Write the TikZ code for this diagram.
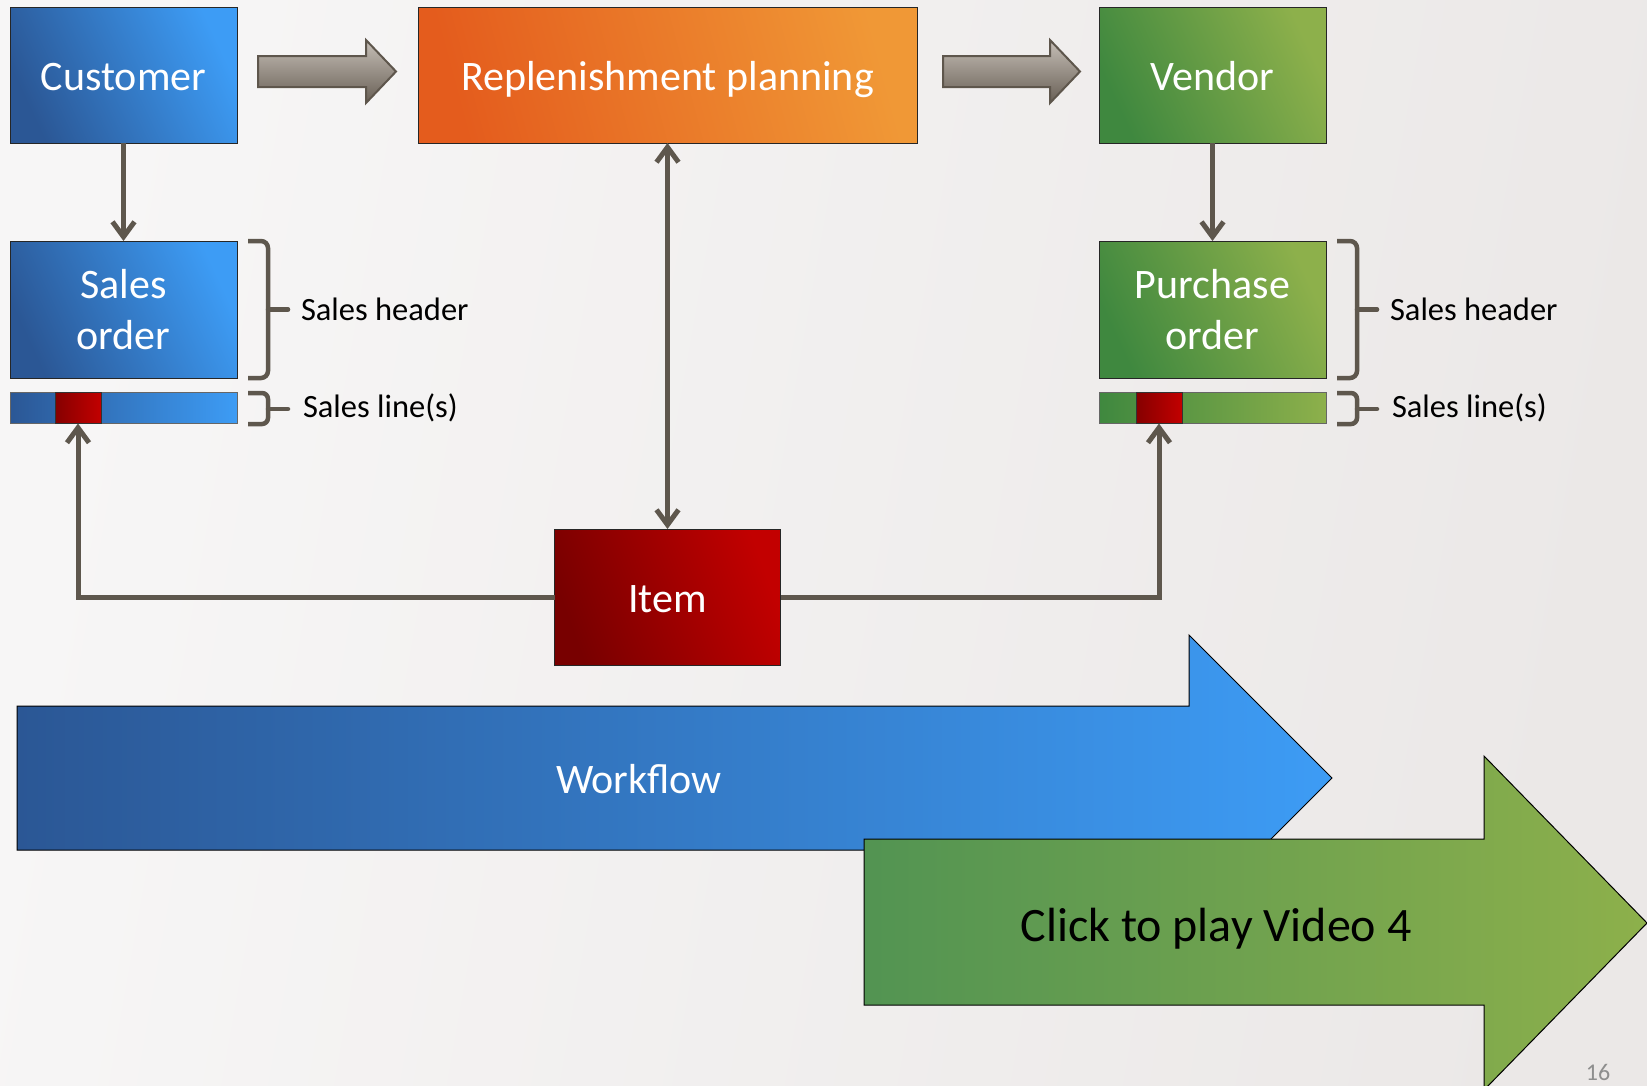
\documentclass[tikz,border=0pt]{standalone}
\usepackage{fontspec}
\setmainfont{Carlito}
\usetikzlibrary{arrows.meta,calc}
\definecolor{bluedark}{HTML}{2B5795}
\definecolor{bluelight}{HTML}{3D9CF5}
\definecolor{orgdark}{HTML}{E45C1D}
\definecolor{orglight}{HTML}{F09836}
\definecolor{grndark}{HTML}{3F883F}
\definecolor{grnlight}{HTML}{8DB04B}
\definecolor{reddark}{HTML}{780000}
\definecolor{redlight}{HTML}{C20000}
\definecolor{conncol}{HTML}{5E574D}
\definecolor{grayhi}{HTML}{C6BFB7}
\definecolor{graylo}{HTML}{685F55}
\definecolor{bgL}{HTML}{F7F6F6}
\definecolor{bgR}{HTML}{EBE8E7}
\definecolor{pagenum}{HTML}{8E8E8E}
\begin{document}
\begin{tikzpicture}[x=1pt,y=-1pt,
  box/.style={draw=black!85, line width=1pt, minimum width=227pt, minimum height=136pt,
    inner sep=0pt, outer sep=0pt, text=white, align=center,
    font=\fontsize{42}{51}\selectfont},
  oneline/.style={text height=30pt, text depth=0pt},
  bluebox/.style={box, left color=bluedark, right color=bluelight, shading angle=115},
  orgbox/.style={box, left color=orgdark, right color=orglight, shading angle=105},
  grnbox/.style={box, left color=grndark, right color=grnlight, shading angle=115},
  redbox/.style={box, left color=reddark, right color=redlight, shading angle=110},
  bar/.style={draw=black!60, line width=1pt, minimum width=227pt, minimum height=31pt,
    inner sep=0pt, outer sep=0pt},
  redseg/.style={draw=black!80, line width=1pt, minimum width=46pt, minimum height=31pt,
    inner sep=0pt, outer sep=0pt, left color=reddark!90!red, right color=redlight},
  conn/.style={draw=conncol, line width=5pt, -{Straight Barb[length=15pt,width=22pt]}},
  brace/.style={draw=conncol, line width=4.5pt, rounded corners=7pt},
  lbl/.style={inner sep=0pt, outer sep=0pt, text=black, font=\fontsize{32.5}{40}\selectfont},
  grayarr/.style={draw=graylo!90!black, line width=2pt, top color=grayhi, bottom color=graylo},
]
\useasboundingbox (0,0) rectangle (1647,1085);
\shade[left color=bgL, right color=bgR, shading angle=80] (0,0) rectangle (1647,1085);

% top row
\node[bluebox, oneline] (customer) at (123.5,75) {Customer};
\node[orgbox, oneline, minimum width=499pt] (replen) at (667.5,75) {Replenishment planning};
\node[grnbox, oneline] (vendor) at (1212.5,75) {Vendor};

% gray arrows
\path[grayarr] (258,56) -- (366,56) -- (366,40) -- (396,71.5) -- (366,103) -- (366,87) -- (258,87) -- cycle;
\path[grayarr] (943,56) -- (1050,56) -- (1050,40) -- (1080,71.5) -- (1050,103) -- (1050,87) -- (943,87) -- cycle;

% orders
\node[bluebox, minimum height=137pt] (salesorder) at (123.5,309.5) {Sales\\order};
\node[grnbox, minimum height=137pt] (purchorder) at (1212.5,309.5) {Purchase\\order};

% lines bars
\node[bar, left color=bluedark, right color=bluelight] (soline) at (123.5,408) {};
\node[redseg] (soRed) at (78,408) {};
\node[bar, left color=grndark, right color=grnlight] (poline) at (1212.5,408) {};
\node[redseg] (poRed) at (1159,408) {};

% item
\node[redbox, oneline, minimum width=226pt] (item) at (667.5,597) {Item};

% brackets left
\draw[brace] (248,241) -- (268,241) -- (268,378) -- (248,378);
\draw[draw=conncol, line width=4.5pt, line cap=round] (268,309.5) -- (288,309.5);
\draw[brace, rounded corners=6pt] (248,393) -- (268,393) -- (268,424) -- (248,424);
\draw[draw=conncol, line width=4.5pt, line cap=round] (268,409) -- (288,409);
% brackets right
\draw[brace] (1337,241) -- (1357,241) -- (1357,378) -- (1337,378);
\draw[draw=conncol, line width=4.5pt, line cap=round] (1357,309.5) -- (1377,309.5);
\draw[brace, rounded corners=6pt] (1337,393) -- (1357,393) -- (1357,424) -- (1337,424);
\draw[draw=conncol, line width=4.5pt, line cap=round] (1357,409) -- (1377,409);

% labels
\node[lbl, anchor=base west] (shL) at (301,320) {Sales header};
\node[lbl, anchor=base west] (slL) at (303,417) {Sales line(s)};
\node[lbl, anchor=base west] (shR) at (1390,320) {Sales header};
\node[lbl, anchor=base west] (slR) at (1392,417) {Sales line(s)};

% connectors
\draw[conn] (customer.south) -- (salesorder.north);
\draw[conn] (vendor.south) -- (purchorder.north);
\draw[conn, {Straight Barb[length=15pt,width=22pt]}-{Straight Barb[length=15pt,width=22pt]}] (replen.south) -- (item.north);
\draw[conn] (item.west) -| (soRed.south);
\draw[conn] (item.east) -| (poRed.south);

% big arrows
\path[draw=black, line width=1pt, left color=bluedark, right color=bluelight]
  (17,706) -- (1189,706) -- (1189,635) -- (1332,778) -- (1189,921) -- (1189,850) -- (17,850) -- cycle;
\node[text=white, font=\fontsize{42}{50}\selectfont, inner sep=0pt] (workflow) at (639,779) {Workflow};
\path[draw=black, line width=1pt, left color=grndark!90!white, right color=grnlight]
  (864,839) -- (1484,839) -- (1484,756) -- (1647,923) -- (1484,1090) -- (1484,1005) -- (864,1005) -- cycle;
\node[text=black, font=\fontsize{48}{56}\selectfont, inner sep=0pt] (video) at (1216,929) {Click to play Video 4};

\node[text=pagenum, font=\fontsize{24}{28}\selectfont, anchor=base, inner sep=0pt] (pnum) at (1598,1080) {16};
\end{tikzpicture}
\end{document}
